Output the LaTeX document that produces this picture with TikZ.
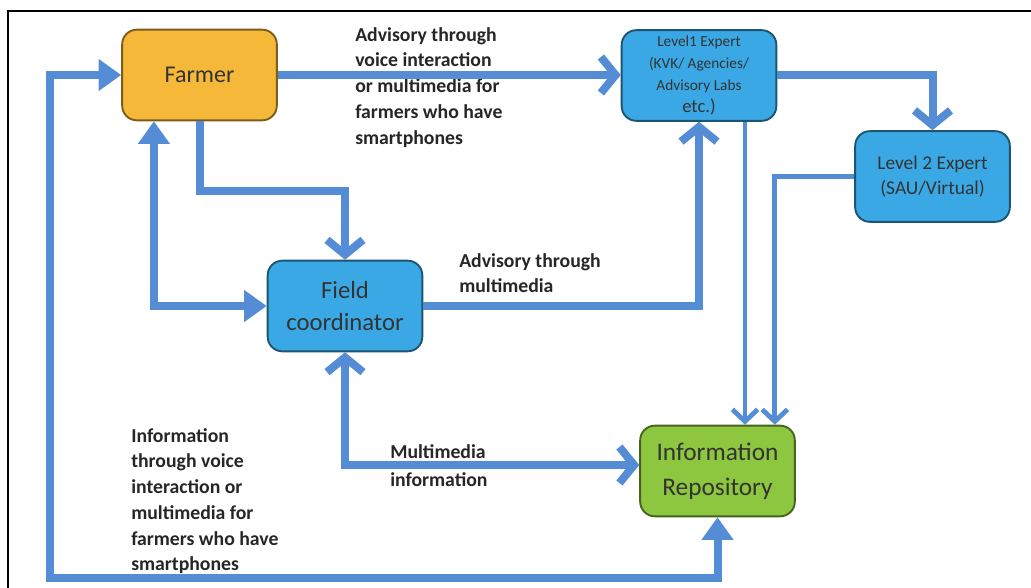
\documentclass[tikz,border=0pt]{standalone}
\usepackage{fontspec}
\setmainfont{Carlito}
\usetikzlibrary{arrows.meta}
\definecolor{flowblue}{RGB}{84,141,214}
\definecolor{farmorange}{RGB}{245,184,56}
\definecolor{boxblue}{RGB}{58,168,228}
\definecolor{repogreen}{RGB}{141,198,63}

\begin{document}
\begin{tikzpicture}[x=0.75pt,y=-0.75pt,
  box/.style={draw=#1!50!black,fill=#1,line width=1.4pt,rounded corners=11pt,
    minimum width=116pt,minimum height=68pt,align=center,text=black!80,inner sep=2pt},
  note/.style={font=\bfseries\fontsize{14.8}{19.3}\selectfont,align=left,
    inner sep=0pt,text=black!85,anchor=north west},
  chev/.tip={Straight Barb[length=11pt,width=27pt]},
  tri/.tip={Triangle[length=17pt,width=23pt]},
  smallchev/.tip={Straight Barb[length=9pt,width=19pt]},
  flow/.style={draw=flowblue,line width=6pt},
  thinflow/.style={draw=flowblue,line width=3.6pt,-smallchev}]
  \useasboundingbox (0,0) rectangle (1031,588);
  % frame of the scan
  \draw[line width=1.6pt] (8,588) -- (8,11) -- (1031,11);
  % boxes
  \node[box=farmorange,font=\fontsize{18}{22}\selectfont] (farmer) at (199.5,75) {Farmer};
  \node[box=boxblue,font=\fontsize{11.5}{16.5}\selectfont] (lvlone) at (699,75.5)
    {Level1 Expert\\(KVK/ Agencies/\\Advisory Labs\\{\fontsize{14}{16.5}\selectfont etc.)}};
  \node[box=boxblue,font=\fontsize{14.6}{19}\selectfont] (lvltwo) at (932.5,176.5)
    {Level 2 Expert\\(SAU/Virtual)};
  \node[box=boxblue,font=\fontsize{18.5}{24}\selectfont] (fieldco) at (345,306)
    {Field\\coordinator};
  \node[box=repogreen,font=\fontsize{19}{26}\selectfont] (repo) at (717.5,471)
    {Information\\Repository};
  % texts along the flows
  \node[note] (lblvoice) at (355,27)
    {Advisory through\\voice interaction\\or multimedia for\\farmers who have\\smartphones};
  \node[note] (lblmm) at (459,253) {Advisory through\\multimedia};
  \node[note,font=\bfseries\fontsize{14.8}{21}\selectfont] (lblmminfo) at (390,444)
    {Multimedia\\information};
  \node[note] (lblinfo) at (131,428)
    {Information\\through voice\\interaction or\\multimedia for\\farmers who have\\smartphones};
  % flows
  \draw[flow,-chev] (farmer.east) -- (farmer.east -| lvlone.west);
  \draw[flow,-chev] (lvlone.east) -| (lvltwo.north);
  \draw[flow,-chev] (farmer.south) -- ++(0,70) -| (fieldco.north);
  \draw[flow,tri-tri] ([xshift=24.5pt]farmer.south west) |- (fieldco.west);
  \draw[flow,-chev] (fieldco.east) -| (lvlone.south);
  \draw[flow,chev-chev] (fieldco.south) |- ([yshift=4.5pt]repo.west);
  \draw[thinflow] ([xshift=34.5pt]lvlone.south) -- ([xshift=34.5pt]lvlone.south |- repo.north);
  \draw[thinflow] (lvltwo.west) -| ([xshift=43pt]repo.north);
  \draw[flow,tri-tri] (repo.south) |- (50,578) |- (farmer.west);
\end{tikzpicture}
\end{document}
